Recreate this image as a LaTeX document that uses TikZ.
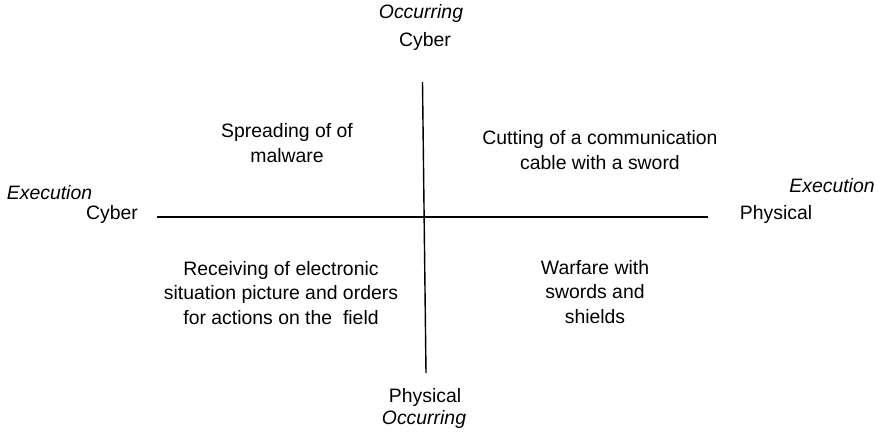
\documentclass[tikz,border=0pt]{standalone}
\usepackage{fontspec}
\setmainfont{Liberation Sans}
\usepackage{tikz}
\usetikzlibrary{positioning}

\begin{document}
\begin{tikzpicture}[x=0.025cm,y=-0.025cm,
  lbl/.style={font=\fontsize{13.8}{17.2}\selectfont,inner sep=0pt},
  axlbl/.style={lbl,font=\fontsize{13.8}{17.2}\selectfont\itshape},
  quad/.style={lbl,align=center}]
\useasboundingbox (0,0) rectangle (880,434);
% axes
\coordinate (xl) at (157,217);
\coordinate (xr) at (708,217);
\coordinate (yt) at (422.5,82);
\coordinate (yb) at (426,373);
\draw[line width=1pt] (xl) -- (xr);
\draw[line width=1pt] (yt) -- (yb);
% axis labels
\node[axlbl] (occT) at (421,13) {Occurring};
\node[lbl] (cybT) at (425,41) {Cyber};
\node[lbl] (phyB) at (425,397) {Physical};
\node[axlbl] (occB) at (424,419) {Occurring};
\node[axlbl] (exeL) at (49.5,193) {Execution};
\node[lbl] (cybL) at (112,214) {Cyber};
\node[axlbl] (exeR) at (832,186) {Execution};
\node[lbl] (phyR) at (776,214) {Physical};
% quadrants
\node[quad] (q1) at (287,143) {Spreading of of\\malware};
\node[quad] (q2) at (600,150) {Cutting of a communication\\cable with a sword};
\node[quad] (q3) at (281,293) {Receiving of electronic\\situation picture and orders\\for actions on the\ \ field};
\node[quad] (q4) at (595,292) {Warfare with\\swords and\\shields};
\end{tikzpicture}
\end{document}
